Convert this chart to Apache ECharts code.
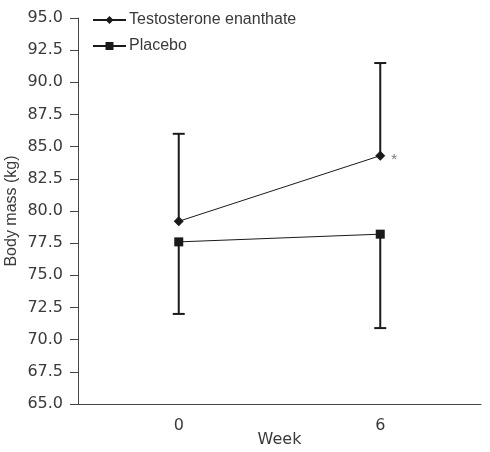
<!DOCTYPE html>
<html>
<head>
<meta charset="utf-8">
<script src="https://cdn.jsdelivr.net/npm/echarts@6/dist/echarts.min.js"></script>
<style>html,body{margin:0;padding:0;background:#fff;}#c{width:490px;height:452px;}</style>
</head>
<body>
<div id="c"></div>
<script>
var weeks = ["0", "6"];
var testoMean = [79.2, 84.3];
var testoUpper = [86.0, 91.5];
var placeboMean = [77.6, 78.2];
var placeboLower = [72.0, 70.9];
var yTicks = [65, 67.5, 70, 72.5, 75, 77.5, 80, 82.5, 85, 87.5, 90, 92.5, 95];

var textColor = '#3a3a3a';
var font = 'DejaVu Sans';

function errBar(means, ends) {
  return {
    type: 'custom',
    silent: true,
    data: means.map(function (m, i) { return [i, m, ends[i]]; }),
    encode: { x: 0, y: [1, 2] },
    renderItem: function (params, api) {
      var p1 = api.coord([api.value(0), api.value(1)]);
      var p2 = api.coord([api.value(0), api.value(2)]);
      var hw = 6;
      var st = { stroke: '#1a1a1a', lineWidth: 2 };
      return {
        type: 'group',
        children: [
          { type: 'line', shape: { x1: p1[0], y1: p1[1], x2: p2[0], y2: p2[1] }, style: st },
          { type: 'line', shape: { x1: p2[0] - hw, y1: p2[1], x2: p2[0] + hw, y2: p2[1] }, style: st }
        ]
      };
    },
    z: 1
  };
}

var chart = echarts.init(document.getElementById('c'));
chart.setOption({
  animation: false,
  grid: { left: 78, right: 9, top: 18, bottom: 48, containLabel: false, outerBoundsMode: 'none' },
  legend: {
    left: 92, top: 12, orient: 'vertical', itemGap: 10, padding: 0,
    itemWidth: 33, itemHeight: 10,
    textStyle: { color: textColor, fontSize: 16, fontFamily: 'Liberation Sans', padding: [0, 0, 0, -2] },
    data: ['Testosterone enanthate', 'Placebo']
  },
  xAxis: {
    type: 'category',
    data: weeks,
    boundaryGap: true,
    name: 'Week', nameLocation: 'middle', nameGap: 28, nameMoveOverlap: false,
    nameTextStyle: { color: textColor, fontSize: 16, fontFamily: font },
    axisLine: { lineStyle: { color: '#444', width: 1 } },
    axisTick: { length: 10, lineStyle: { color: '#444' } },
    axisLabel: { color: textColor, fontSize: 16, fontFamily: font, margin: 14 }
  },
  yAxis: {
    type: 'value', min: 65, max: 95, interval: 2.5,
    name: 'Body mass (kg)', nameLocation: 'middle', nameGap: 58, nameMoveOverlap: false,
    nameTextStyle: { color: textColor, fontSize: 16, fontFamily: 'Liberation Sans' },
    splitLine: { show: false },
    axisLine: { show: true, lineStyle: { color: '#444', width: 1 } },
    axisTick: { show: true, length: 8, lineStyle: { color: '#444' } },
    axisLabel: { color: textColor, fontSize: 16, fontFamily: font, margin: 15,
      formatter: function (v) { return v.toFixed(1); } }
  },
  series: [
    errBar(testoMean, testoUpper),
    errBar(placeboMean, placeboLower),
    {
      name: 'Testosterone enanthate', type: 'line', data: testoMean,
      symbol: 'diamond', symbolSize: 10,
      lineStyle: { color: '#1a1a1a', width: 1 }, itemStyle: { color: '#1a1a1a' },
      label: { show: true, position: 'right', distance: 6, offset: [0, 4],
        formatter: function (p) { return p.dataIndex === 1 ? '*' : ''; },
        color: '#777', fontSize: 15 },
      z: 3
    },
    {
      name: 'Placebo', type: 'line', data: placeboMean,
      symbol: 'rect', symbolSize: 9,
      lineStyle: { color: '#1a1a1a', width: 1 }, itemStyle: { color: '#1a1a1a' },
      z: 3
    }
  ]
});
</script>
</body>
</html>
